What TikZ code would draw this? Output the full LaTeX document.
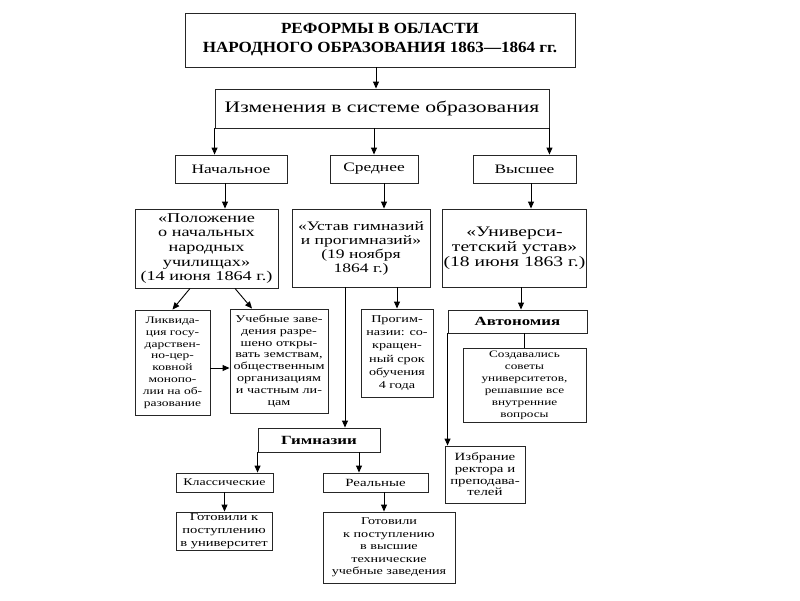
\documentclass[tikz,border=0pt]{standalone}
\usepackage{fontspec}
\setmainfont[FakeStretch=1.35]{Liberation Serif}
\newfontfamily\titlefont[FakeStretch=1.1]{Liberation Serif}
\usepackage{tikz}
\usetikzlibrary{arrows.meta}
\newcommand{\sz}[2]{\fontsize{#1}{#2}\selectfont}

\begin{document}
\begin{tikzpicture}[x=1pt,y=-1pt,
    box/.style={draw=black!85, line width=0.9pt, align=center, inner sep=1pt},
    arr/.style={-{Triangle[length=7pt,width=6pt]}, line width=0.9pt},
    ln/.style={line width=0.9pt}]
    \useasboundingbox (0,0) rectangle (800,600);

    \node[box, minimum width=390, minimum height=54, font=\titlefont\bfseries\sz{15.5}{19}] (reform) at (380,40) {РЕФОРМЫ В ОБЛАСТИ\\НАРОДНОГО ОБРАЗОВАНИЯ 1863—1864 гг.};
    \node[box, minimum width=334, minimum height=39, font=\sz{16}{18}] (izm) at (382,108.5) {Изменения в системе образования};

    % levels of schooling
    \node[box, minimum width=112, minimum height=28, font=\sz{12.9}{15}] (nach) at (231,169) {Начальное};
    \node[box, minimum width=88, minimum height=28, font=\sz{12.9}{15}] (sred) at (374,169) {Среднее};
    \node[box, minimum width=103, minimum height=28, font=\sz{12.9}{15}] (vyssh) at (524.5,169) {Высшее};

    % statutes
    \node[box, minimum width=143, minimum height=79, font=\sz{13.5}{14.6}] (polozh) at (206.5,248.5) {«Положение\\о начальных\\народных\\училищах»\\(14 июня 1864 г.)};
    \node[box, minimum width=138, minimum height=78, font=\sz{13}{14}] (ustav) at (361,248) {«Устав гимназий\\и прогимназий»\\(19 ноября\\1864 г.)};
    \node[box, minimum width=143, minimum height=78, font=\sz{14.5}{15}] (univ) at (514.5,248) {«Универси-\\тетский устав»\\(18 июня 1863 г.)};

    \node[box, minimum width=75, minimum height=105, font=\sz{10}{11.8}] (likv) at (172.5,362.5) {Ликвида-\\ция госу-\\дарствен-\\но-цер-\\ковной\\монопо-\\лии на об-\\разование};
    \node[box, minimum width=98, minimum height=104, font=\sz{10.5}{11.8}] (ucheb) at (279,361) {Учебные заве-\\дения разре-\\шено откры-\\вать земствам,\\общественным\\организациям\\и частным ли-\\цам};
    \node[box, minimum width=72, minimum height=88, font=\sz{10.5}{13.3}] (progim) at (397,353) {Прогим-\\назии: со-\\кращен-\\ный срок\\обучения\\4 года};
    \node[box, minimum width=139, minimum height=23, font=\bfseries\sz{12.5}{14}] (avton) at (517.5,321.5) {Автономия};
    \node[box, minimum width=123, minimum height=74, font=\sz{9.8}{12}] (sovety) at (524.5,385) {Создавались\\советы\\университетов,\\решавшие все\\внутренние\\вопросы};

    \node[box, minimum width=122, minimum height=24, font=\bfseries\sz{12.5}{14}] (gimn) at (319,440) {Гимназии};
    \node[box, minimum width=80, minimum height=57, font=\sz{11}{11.7}] (izbr) at (485,474.5) {Избрание\\ректора и\\преподава-\\телей};
    \node[box, minimum width=97, minimum height=19, font=\sz{10.3}{12}] (klass) at (224.5,482.5) {Классические};
    \node[box, minimum width=105, minimum height=19, font=\sz{11}{12}] (realn) at (375.5,482.5) {Реальные};
    \node[box, minimum width=96, minimum height=38, font=\sz{10.8}{12.8}] (gotU) at (224,531) {Готовили к\\поступлению\\в университет};
    \node[box, minimum width=132, minimum height=71, font=\sz{10.5}{12.5}] (gotT) at (389,547.5) {Готовили\\к поступлению\\в высшие\\технические\\учебные заведения};

    \draw[arr] ([xshift=-4pt]reform.south) -- ([xshift=-4pt]reform.south |- izm.north);
    \draw[arr] (izm.south west) -- (izm.south west |- nach.north);
    \draw[arr] (sred.north |- izm.south) -- (sred.north);
    \draw[arr] (izm.south east) -- (izm.south east |- vyssh.north);

    \draw[arr] ([xshift=-6pt]nach.south) -- ([xshift=-6pt]nach.south |- polozh.north);
    \draw[arr] ([xshift=10pt]sred.south) -- ([xshift=10pt]sred.south |- ustav.north);
    \draw[arr] ([xshift=6.5pt]vyssh.south) -- ([xshift=6.5pt]vyssh.south |- univ.north);

    \draw[arr] ([xshift=-16.5pt]polozh.south) -- (likv.north);
    \draw[arr] ([xshift=28.5pt]polozh.south) -- ([xshift=-27pt]ucheb.north);
    \draw[arr] ([yshift=-5.5pt]likv.east) -- ([yshift=-5.5pt]likv.east -| ucheb.west); % to the right box

    \draw[arr] ([xshift=-16pt]ustav.south) -- ([xshift=-16pt]ustav.south |- gimn.north);
    \draw[arr] (progim.north |- ustav.south) -- (progim.north);
    \draw[arr] ([xshift=6.5pt]univ.south) -- ([xshift=6.5pt]univ.south |- avton.north);
    \draw[ln] (sovety.north |- avton.south) -- (sovety.north);
    \draw[arr] (avton.south west) -- (avton.south west |- izbr.north);

    \draw[arr] (gimn.south west) -- (gimn.south west |- klass.north);
    \draw[arr] ([xshift=40pt]gimn.south) -- ([xshift=40pt]gimn.south |- realn.north);
    \draw[arr] (klass.south) -- (klass.south |- gotU.north);
    \draw[arr] ([xshift=8.5pt]realn.south) -- ([xshift=8.5pt]realn.south |- gotT.north);
\end{tikzpicture}
\end{document}
